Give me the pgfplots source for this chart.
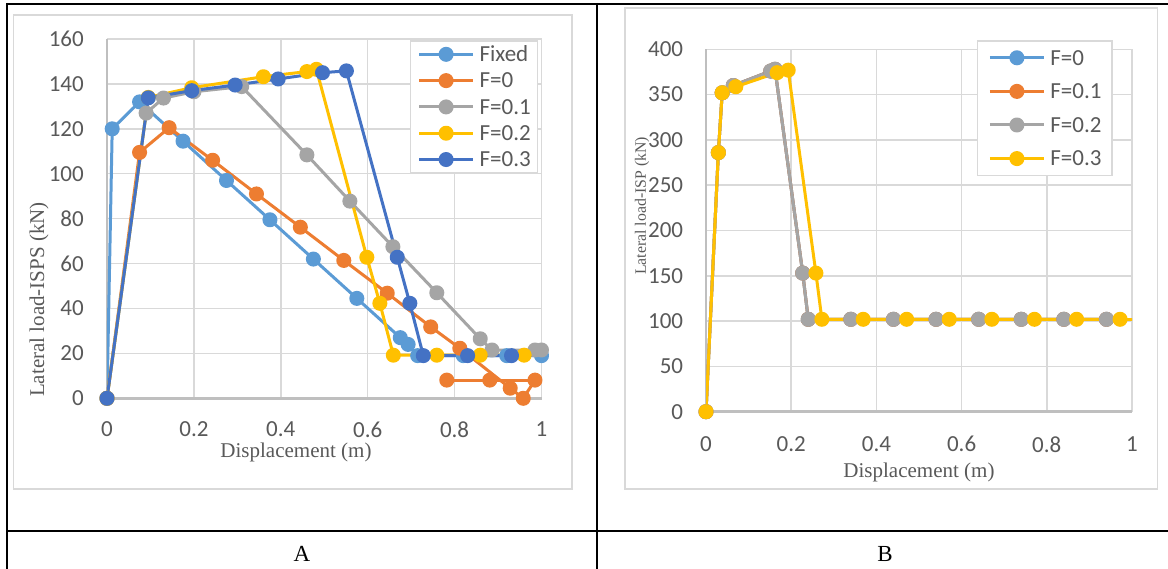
\documentclass[border=0pt]{standalone}
\usepackage{fontspec}
\setmainfont{Carlito}
\newfontfamily\tnr{Liberation Serif}
\usepackage{pgfplots}
\pgfplotsset{compat=1.18}
\definecolor{gridc}{HTML}{D9D9D9}
\definecolor{axisc}{HTML}{BFBFBF}
\definecolor{tickc}{HTML}{595959}
\definecolor{cBlue}{HTML}{5B9BD5}
\definecolor{cOrange}{HTML}{ED7D31}
\definecolor{cGray}{HTML}{A5A5A5}
\definecolor{cYellow}{HTML}{FFC000}
\definecolor{cDark}{HTML}{4472C4}
\pgfplotsset{
  legend image code/.code={\draw[mark repeat=2,mark phase=2,#1] plot coordinates {(0pt,0pt)(27pt,0pt)(54pt,0pt)}; \path (59pt,0pt);},
  excel/.style={
    scale only axis, xmin=0, xmax=1,
    xtick={0,0.2,0.4,0.6,0.8,1},
    grid=major,
    major grid style={draw=gridc, line width=1.5pt},
    axis x line*=bottom, axis y line*=left,
    axis line style={draw=axisc, line width=2.5pt, -},
    major tick length=0pt,
    tick label style={font=\fontsize{23}{27}\selectfont, text=tickc, inner sep=0pt},
    /pgf/number format/assume math mode=true,
    label style={text=tickc},
    every axis plot/.append style={line width=3pt, line join=round, mark=*, mark size=6pt, mark options={solid}},
    legend cell align=left,
  }
}
\begin{document}
\begin{tikzpicture}[x=1pt,y=1pt]
\useasboundingbox (0,0) rectangle (1168,-569);
\fill[white] (0,0) rectangle (1168,-569);
% chart frames
\draw[gridc, line width=1.5pt] (13.4,-15.2) rectangle (572,-489);
\draw[gridc, line width=1.5pt] (625,-8) rectangle (1157.7,-489);
% table lines
\draw[black, line width=2.2pt] (7.3,-4) -- (1168,-4);
\draw[black, line width=2.2pt] (7.3,-3) -- (7.3,-569);
\draw[black, line width=2.2pt] (596.7,-3) -- (596.7,-569);
\draw[black, line width=2.2pt] (7.3,-530.7) -- (1168,-530.7);
\node[font=\tnr\fontsize{23}{26}\selectfont, anchor=base, inner sep=0pt] at (302,-561) {A};
\node[font=\tnr\fontsize{23}{26}\selectfont, anchor=base, inner sep=0pt] at (885,-561) {B};

% ---------------- Chart A ----------------
\begin{axis}[excel, at={(107pt,-398.3pt)}, anchor=south west, width=434.5pt, height=359.3pt,
  ymin=0, ymax=160, ytick={0,20,...,160},
  xticklabel shift=23pt, yticklabel shift=23pt,
  xlabel={Displacement (m)}, ylabel={Lateral load-ISPS (kN)},
  xlabel style={at={(axis description cs:0.435,-0.151)}, anchor=center, font=\tnr\fontsize{21}{24}\selectfont},
  ylabel style={at={(axis description cs:-0.1565,0.275)}, anchor=center, font=\tnr\fontsize{21}{24}\selectfont},
  legend style={at={(0.697,0.996)}, anchor=north west, draw=gridc, line width=1.5pt, fill=white,
    inner xsep=7pt, inner ysep=0pt, font=\fontsize{23}{27}\selectfont, text=tickc, row sep=0pt,
    nodes={inner sep=0pt, text height=20.5pt, text depth=5.8pt}}]
\addplot[color=cBlue] coordinates {(0,0)(0.012,120)(0.075,132)(0.175,114.5)(0.275,97)(0.375,79.5)(0.475,62)(0.575,44.5)(0.675,27)(0.693,24)(0.715,19)(0.82,19)(0.92,19)(1.0,19)};
\addlegendentry{Fixed}
\addplot[color=cOrange] coordinates {(0,0)(0.075,109.5)(0.143,120.5)(0.243,106)(0.344,91)(0.445,76.2)(0.545,61.4)(0.645,46.8)(0.745,31.8)(0.812,22.3)(0.928,4.5)(0.958,0)(0.985,8.1)};
\addlegendentry{F=0}
\addplot[color=cOrange, forget plot] coordinates {(0.782,8.1)(0.881,8.1)};
\addplot[color=cOrange, mark=none, forget plot] coordinates {(0.881,8.1)(0.985,8.1)(1.05,8.1)};
\addplot[color=cGray] coordinates {(0,0)(0.09,127)(0.13,133.7)(0.2,136.5)(0.31,138.8)(0.46,108.4)(0.559,87.8)(0.658,67.5)(0.759,47)(0.859,26.5)(0.886,21.5)(0.985,21.5)(1.0,21.5)};
\addlegendentry{F=0.1}
\addplot[color=cYellow] coordinates {(0,0)(0.095,134)(0.195,138.3)(0.36,143.2)(0.46,145.5)(0.482,146.5)(0.598,62.8)(0.628,42.3)(0.659,19.2)(0.759,19.2)(0.859,19.2)(0.96,19.2)};
\addlegendentry{F=0.2}
\addplot[color=cDark] coordinates {(0,0)(0.095,133.8)(0.195,137)(0.295,139.5)(0.394,142.2)(0.496,145)(0.551,145.8)(0.668,62.8)(0.697,42.3)(0.728,19)(0.83,19)(0.931,19)};
\addlegendentry{F=0.3}
\addplot[color=cDark, mark=none, forget plot] coordinates {(0.931,19)(1.05,19)};
\end{axis}

% ---------------- Chart B ----------------
\begin{axis}[excel, at={(706pt,-411.7pt)}, anchor=south west, width=426pt, height=362.4pt,
  ymin=0, ymax=400, ytick={0,50,...,400},
  xticklabel shift=24.5pt, yticklabel shift=22.7pt,
  xlabel={Displacement (m)}, ylabel={Lateral load-ISP (kN)},
  xlabel style={at={(axis description cs:0.5,-0.167)}, anchor=center, font=\tnr\fontsize{21}{24}\selectfont},
  ylabel style={at={(axis description cs:-0.150,0.5676)}, anchor=center, font=\tnr\fontsize{15.8}{18}\selectfont},
  legend style={at={(0.636,1.025)}, anchor=north west, draw=gridc, line width=1.5pt, fill=white,
    inner xsep=10.7pt, inner ysep=0pt, font=\fontsize{23}{27}\selectfont, text=tickc, row sep=0pt,
    nodes={inner sep=0pt, text height=24.2pt, text depth=9.4pt}}]
\addplot[color=cBlue] coordinates {(0,0)(0.029,286)(0.038,352)(0.064,360)(0.152,376)(0.162,378)(0.227,153)(0.24,102)(0.34,102)(0.44,102)(0.54,102)(0.64,102)(0.74,102)(0.84,102)(0.94,102)};
\addlegendentry{F=0}
\addplot[color=cOrange] coordinates {(0,0)(0.029,286)(0.038,352)(0.064,360)(0.152,376)(0.162,378)(0.227,153)(0.24,102)(0.34,102)(0.44,102)(0.54,102)(0.64,102)(0.74,102)(0.84,102)(0.94,102)};
\addlegendentry{F=0.1}
\addplot[color=cGray] coordinates {(0,0)(0.029,286)(0.038,352)(0.064,360)(0.152,376)(0.162,378)(0.227,153)(0.24,102)(0.34,102)(0.44,102)(0.54,102)(0.64,102)(0.74,102)(0.84,102)(0.94,102)};
\addlegendentry{F=0.2}
\addplot[color=cYellow] coordinates {(0,0)(0.029,286)(0.038,352)(0.07,358.7)(0.167,374.2)(0.193,377)(0.258,153)(0.272,102)(0.369,102)(0.471,102)(0.571,102)(0.671,102)(0.771,102)(0.870,102)(0.972,102)};
\addlegendentry{F=0.3}
\addplot[color=cYellow, mark=none, forget plot] coordinates {(0.972,102)(1.07,102)};
\end{axis}
\end{tikzpicture}
\end{document}
